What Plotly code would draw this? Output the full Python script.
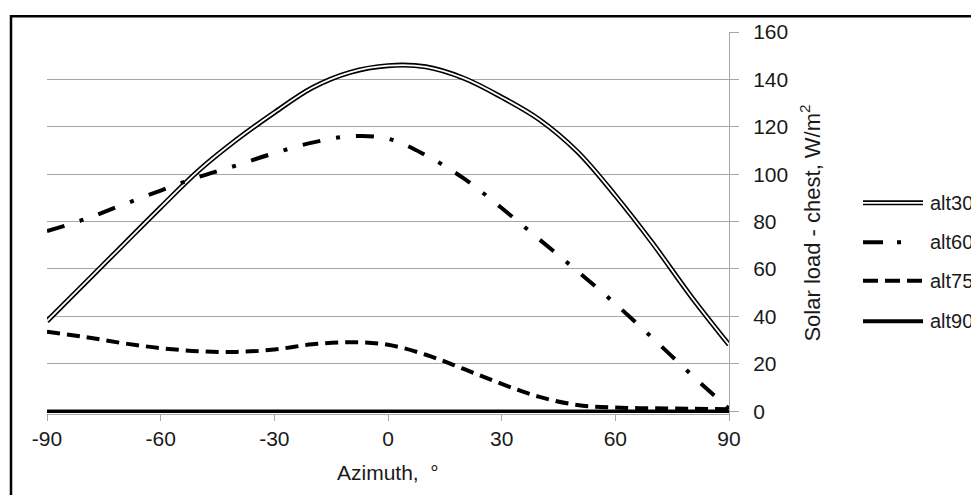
import plotly.graph_objects as go

# ---- data ----
azimuth = [-90, -80, -70, -60, -50, -40, -30, -20, -10, 0, 10, 20, 30, 40, 50, 60, 70, 80, 90]
alt30 = [38, 54, 70, 86, 101.5, 114.5, 126, 136.5, 143, 145.8, 145.3, 140.5, 132.5, 123, 109.5, 91, 70.5, 48.4, 28]
alt60 = [76, 81, 87.1, 93.1, 98.8, 103.7, 108.9, 113.3, 116, 115, 108, 98.2, 85.7, 72.4, 59.1, 45.3, 30.6, 15.5, 1]
alt75 = [33.5, 31.3, 28.7, 26.6, 25.3, 25, 26, 28.2, 29.1, 28, 23.8, 17.8, 11.5, 6, 2.6, 1.5, 1.2, 1, 0.8]
alt90 = [0] * 19

series_names = ["alt30", "alt60", "alt75", "alt90"]
x_ticks = [-90, -60, -30, 0, 30, 60, 90]
x_ticktext = ["-90", "-60", "-30", "0", "30", "60", "90"]
y_ticks = [0, 20, 40, 60, 80, 100, 120, 140, 160]
x_title = "Azimuth,  °"
y_title = "Solar load - chest, W/m<sup>2</sup>"

FONT = "Arial, Liberation Sans, sans-serif"
TXT = "#1a1a1a"
GRID = "#a6a6a6"

fig = go.Figure()
# alt30 drawn as a double line (black outer, white inner)
fig.add_trace(go.Scatter(x=azimuth, y=alt30, mode="lines", line=dict(color="black", width=5, shape="spline"),
                         showlegend=False, hoverinfo="skip"))
fig.add_trace(go.Scatter(x=azimuth, y=alt30, mode="lines", line=dict(color="white", width=1.8, shape="spline"),
                         name="alt30", showlegend=False))
fig.add_trace(go.Scatter(x=azimuth, y=alt60, mode="lines",
                         line=dict(color="black", width=4, shape="spline", dash="18px,16px,4px,16px"),
                         name="alt60", showlegend=False))
fig.add_trace(go.Scatter(x=azimuth, y=alt75, mode="lines",
                         line=dict(color="black", width=4, shape="spline", dash="13px,7px"),
                         name="alt75", showlegend=False))
fig.add_trace(go.Scatter(x=azimuth, y=alt90, mode="lines", line=dict(color="black", width=3.5),
                         name="alt90", showlegend=False))

# page offset (body margin) and plot-area geometry in page pixels
OFF = 8
FW, FH = 979 - OFF, 495 - OFF
L, R, T = 47 - OFF, 729 - OFF, 27 - OFF
ymin, ymax = -1.2, 160
pxu = (411 - 27) / 160.0
plot_h = (ymax - ymin) * pxu
B = FH - (T + plot_h)
W_plot = R - L


def px_x(px):
    return (px - OFF - L) / W_plot


def px_y(py):
    return (T + plot_h - (py - OFF)) / plot_h


shapes = []
# outer border (extends beyond the picture on right/bottom)
shapes.append(dict(type="rect", xref="paper", yref="paper", x0=px_x(11), y0=px_y(11), x1=px_x(1100), y1=px_y(600),
                   line=dict(color="black", width=2.5), fillcolor="rgba(0,0,0,0)", layer="above"))

# manual legend
leg_y = [200, 240, 279, 320]
lx0, lx1 = px_x(863), px_x(923)
styles = [
    [dict(color="black", width=5), dict(color="white", width=1.8)],
    [dict(color="black", width=4, dash="20px,14px,4px,30px")],
    [dict(color="black", width=4, dash="15px,7px")],
    [dict(color="black", width=4)],
]
annotations = []
for name, py, sty in zip(series_names, leg_y, styles):
    for s in sty:
        shapes.append(dict(type="line", xref="paper", yref="paper", x0=lx0, x1=lx1, y0=px_y(py), y1=px_y(py), line=s))
    annotations.append(dict(xref="paper", yref="paper", x=px_x(928), y=px_y(py), text=name, showarrow=False,
                            xanchor="left", yanchor="middle", font=dict(family=FONT, size=20, color=TXT)))

annotations.append(dict(xref="paper", yref="paper", x=px_x(388), y=px_y(473), text=x_title, showarrow=False,
                        xanchor="center", yanchor="middle", font=dict(family=FONT, size=21, color=TXT)))
annotations.append(dict(xref="paper", yref="paper", x=px_x(810), y=px_y(220), text=y_title, showarrow=False,
                        textangle=-90, xanchor="center", yanchor="middle", font=dict(family=FONT, size=22, color=TXT)))

fig.update_layout(
    width=FW, height=FH, autosize=False,
    margin=dict(l=L, r=FW - R, t=T, b=B, pad=0),
    paper_bgcolor="white", plot_bgcolor="white",
    font=dict(family=FONT, size=21, color=TXT),
    shapes=shapes, annotations=annotations, showlegend=False,
    xaxis=dict(range=[-90, 90], tickvals=x_ticks, ticktext=x_ticktext, showgrid=False, zeroline=False,
               showline=True, linecolor=GRID, linewidth=1, ticks="outside", ticklen=6, tickcolor=GRID,
               tickfont=dict(family=FONT, size=21, color=TXT), ticklabelstandoff=0),
    yaxis=dict(range=[ymin, ymax], tickvals=y_ticks, side="right", showgrid=True, gridcolor=GRID, gridwidth=1,
               zeroline=False, showline=True, linecolor=GRID, linewidth=1, ticks="outside", ticklen=9,
               tickcolor=GRID, tickfont=dict(family=FONT, size=21, color=TXT), ticklabelstandoff=10),
)

fig.write_html("out.html")
